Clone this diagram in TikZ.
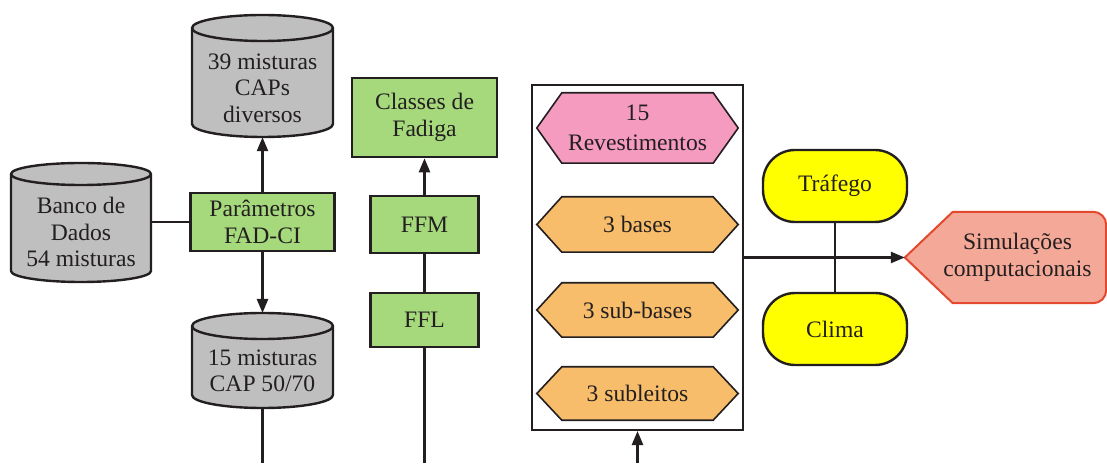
\documentclass[tikz,border=0pt]{standalone}
\usepackage{fontspec}
\setmainfont{Liberation Serif}
\newfontfamily\tnr{Liberation Serif}
\usetikzlibrary{arrows.meta,backgrounds}
\definecolor{ink}{HTML}{231F20}
\definecolor{cylgray}{HTML}{BFBFBF}
\definecolor{boxgreen}{HTML}{A6D97C}
\definecolor{hexpink}{HTML}{F59BC0}
\definecolor{hexorange}{HTML}{F7BD6B}
\definecolor{stadyellow}{HTML}{FFFF00}
\definecolor{simfill}{HTML}{F4A898}
\definecolor{simborder}{HTML}{E2492F}
\begin{document}
\begin{tikzpicture}[x=1pt,y=1pt,
  every node/.style={font=\tnr\fontsize{23.6}{26.5}\selectfont, text=ink, align=center, inner sep=0pt},
  greenbox/.style={draw=ink, line width=2.6pt, fill=boxgreen},
  cylsty/.style={draw=ink, line width=2.4pt, fill=cylgray},
  hexsty/.style={draw=ink, line width=1.6pt},
  stadium/.style={draw=ink, line width=2.4pt, fill=stadyellow, rounded corners=32pt, minimum width=144pt, minimum height=72pt},
  conn/.style={draw=ink, line width=2.4pt},
  arr/.style={conn, -{Triangle[length=14pt,width=11pt]}}
]
\useasboundingbox (0,0) rectangle (1107,463);

% cylinders (text nodes)
\node[minimum width=140pt, minimum height=100pt] (banco) at (81,231) {Banco de\\Dados\\54 misturas};
\node[minimum width=141pt, minimum height=98pt] (c39) at (262.5,375) {39 misturas\\CAPs\\diversos};
\node[minimum width=141pt, minimum height=74pt] (c15) at (262.5,92) {15 misturas\\CAP 50/70};
\coordinate (c15top) at (262.5,150);

% green boxes
\node[greenbox, minimum width=144pt, minimum height=58pt] (param) at (262.5,241) {Parâmetros\\FAD-CI};
\node[greenbox, minimum width=145pt, minimum height=79pt] (classes) at (424.5,345.5) {Classes de\\Fadiga};
\node[greenbox, minimum width=108pt, minimum height=57pt] (ffm) at (424.5,238.5) {FFM};
\node[greenbox, minimum width=108pt, minimum height=54pt] (ffl) at (424.5,143) {FFL};

% container and hexagons
\node[draw=ink, line width=2pt, minimum width=211pt, minimum height=345pt] (cont) at (637.5,205.5) {};
\node[minimum width=201pt, minimum height=70pt] (rev) at (637.5,335) {\raisebox{-3pt}{\parbox{190pt}{\centering 15\\[3pt]Revestimentos}}};
\node[minimum width=201pt, minimum height=55pt] (bases) at (637.5,238.5) {3 bases};
\node[minimum width=201pt, minimum height=54pt] (subbases) at (637.5,153) {3 sub-bases};
\node[minimum width=201pt, minimum height=53pt] (subleitos) at (637.5,69.5) {3 subleitos};

% stadiums
\node[stadium] (traf) at (835,277) {Tráfego};
\node[stadium] (clima) at (835,134) {Clima};

% simulations
\node[minimum width=201pt, minimum height=91pt] (sim) at (1005.5,205.5) {\hspace*{24pt}Simulações\\\hspace*{24pt}computacionais};

\coordinate (bot1) at (262.5,0);
\coordinate (bot2) at (424.5,0);
\coordinate (bot3) at (637.5,0);

\begin{pgfonlayer}{background}
  % Banco
  \filldraw[cylsty] (11,289) -- (11,192) arc[start angle=180,end angle=360,x radius=70pt,y radius=11pt] -- (151,289) arc[start angle=0,end angle=180,x radius=70pt,y radius=11pt] -- cycle;
  \draw[cylsty,fill=none] (11,289) arc[start angle=180,end angle=360,x radius=70pt,y radius=11pt];
  % 39
  \filldraw[cylsty] (192,435) -- (192,339) arc[start angle=180,end angle=360,x radius=70.5pt,y radius=13pt] -- (333,435) arc[start angle=0,end angle=180,x radius=70.5pt,y radius=13pt] -- cycle;
  \draw[cylsty,fill=none] (192,435) arc[start angle=180,end angle=360,x radius=70.5pt,y radius=13pt];
  % 15
  \filldraw[cylsty] (192,137) -- (192,68) arc[start angle=180,end angle=360,x radius=70.5pt,y radius=13pt] -- (333,137) arc[start angle=0,end angle=180,x radius=70.5pt,y radius=13pt] -- cycle;
  \draw[cylsty,fill=none] (192,137) arc[start angle=180,end angle=360,x radius=70.5pt,y radius=13pt];
  % hexagons
  \foreach \n/\c in {rev/hexpink, bases/hexorange, subbases/hexorange, subleitos/hexorange}{
    \filldraw[hexsty, fill=\c] (\n.west) -- ([xshift=25pt]\n.north west) -- ([xshift=-25pt]\n.north east) -- (\n.east) -- ([xshift=-25pt]\n.south east) -- ([xshift=25pt]\n.south west) -- cycle;
  }
  % simulation display shape
  \filldraw[draw=simborder, fill=simfill, line width=2pt, line join=round]
    (sim.west) -- ([xshift=48pt]sim.north west) -- ([xshift=-13pt]sim.north east)
    arc[start angle=90,end angle=0,radius=13pt] -- ([yshift=13pt]sim.south east)
    arc[start angle=0,end angle=-90,radius=13pt] -- ([xshift=48pt]sim.south west) -- cycle;
\end{pgfonlayer}

% connectors
\draw[conn] (param.west) -- (param.west -| banco.east);
\draw[arr] (param.north) -- (c39.south);
\draw[arr] (param.south) -- (c15top);
\draw[conn] (c15.south) -- (bot1);
\draw[arr] (ffm.north) -- (classes.south);
\draw[conn] (ffl.north) -- (ffm.south);
\draw[conn] (ffl.south) -- (bot2);
\draw[arr] (bot3) -- (cont.south);
\draw[conn] (traf.south) -- (clima.north);
\draw[arr] (cont.east) -- (sim.west);
\end{tikzpicture}
\end{document}
